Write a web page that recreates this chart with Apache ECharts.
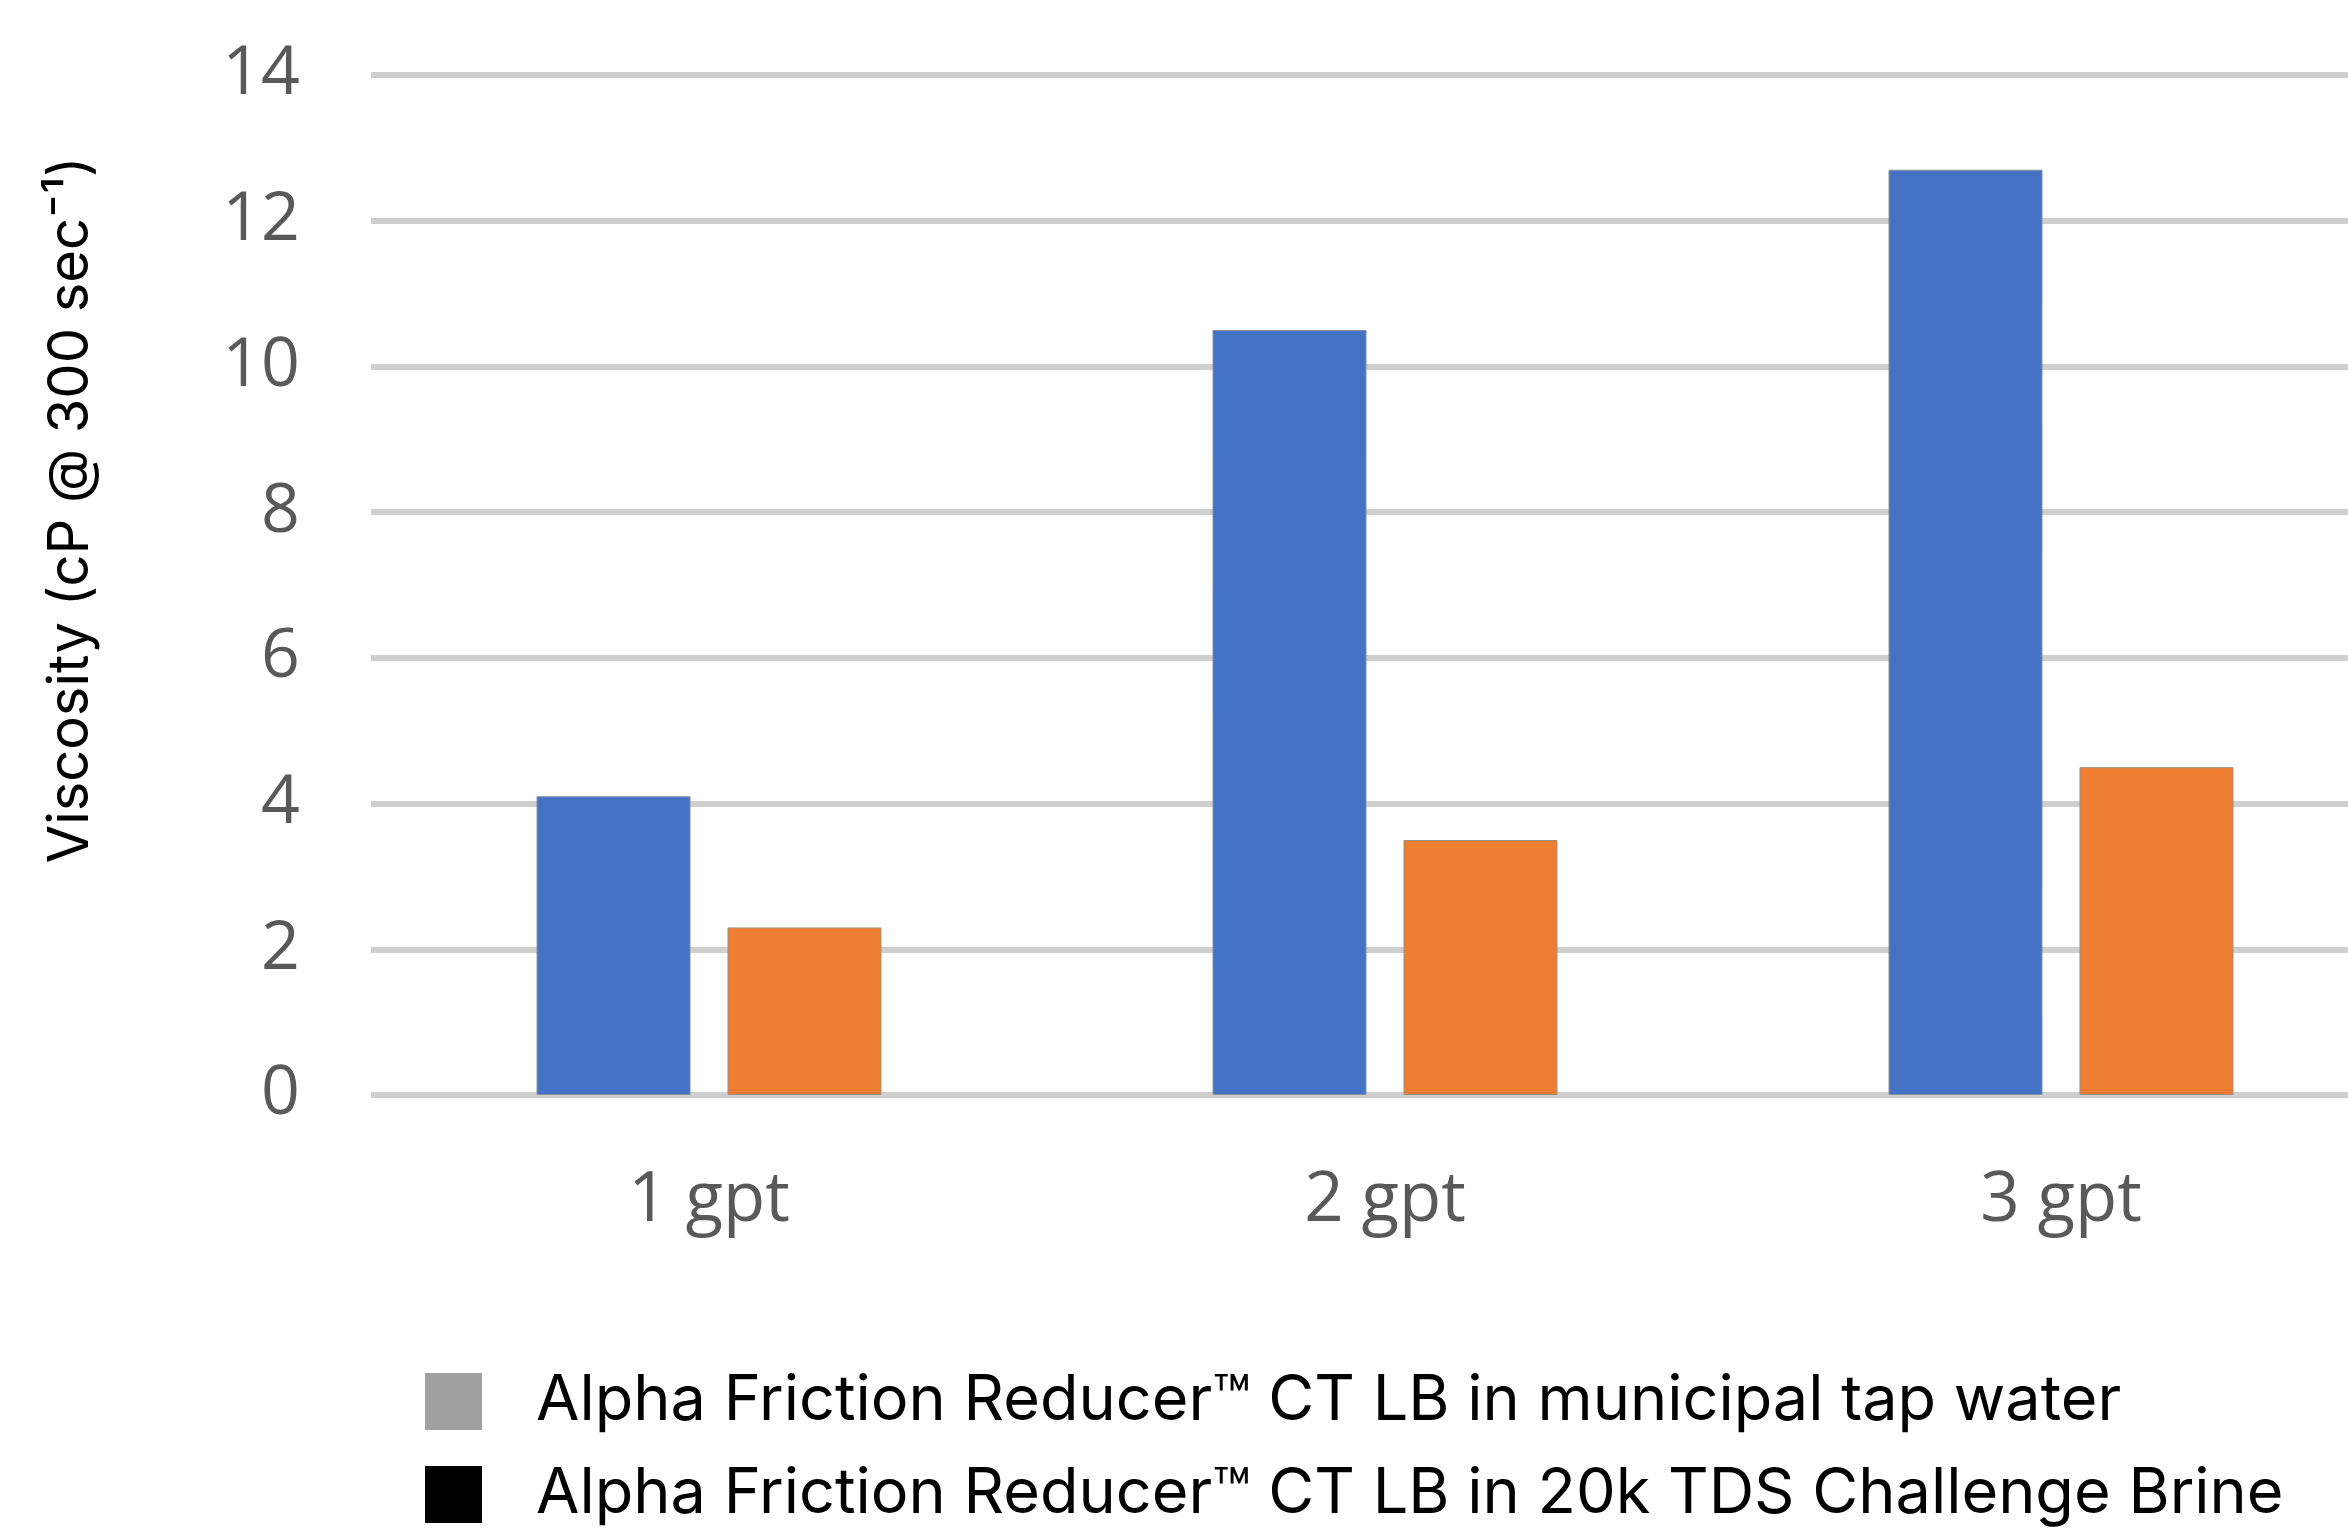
<!DOCTYPE html>
<html>
<head>
<meta charset="utf-8">
<script src="https://cdn.jsdelivr.net/npm/echarts@6/dist/echarts.min.js"></script>
<style>
html,body{margin:0;padding:0;background:#fff;}
#c{width:2348px;height:1528px;}
</style>
</head>
<body>
<div id="c"></div>
<script>
const categories = ['1 gpt', '2 gpt', '3 gpt'];
const seriesNames = [
  'Alpha Friction Reducer™ CT LB in municipal tap water',
  'Alpha Friction Reducer™ CT LB in 20k TDS Challenge Brine'
];
const tapWater = [4.1, 10.5, 12.7];
const brine = [2.3, 3.5, 4.5];
const yTicks = { min: 0, max: 14, interval: 2 };
const yTitle = 'Viscosity (cP @ 300 sec⁻¹)';

const legendText = { fontFamily: 'Inter', fontSize: 63, color: '#000', padding: [0, 0, 0, 49] };
const legendBase = {
  orient: 'vertical', left: 425, padding: 0,
  itemWidth: 57, itemHeight: 57, icon: 'rect',
  textStyle: legendText
};

const chart = echarts.init(document.getElementById('c'));
chart.setOption({
  animation: false,
  backgroundColor: '#ffffff',
  grid: { left: 371, width: 2028, top: 75, bottom: 433, containLabel: false, outerBoundsMode: 'none' },
  legend: [
    Object.assign({}, legendBase, { top: 1370,
      data: [{ name: seriesNames[0], itemStyle: { color: '#a0a0a0', borderWidth: 0 } }] }),
    Object.assign({}, legendBase, { top: 1463,
      data: [{ name: seriesNames[1], itemStyle: { color: '#000000', borderWidth: 0 } }] })
  ],
  xAxis: {
    type: 'category',
    data: categories,
    axisLine: { show: false },
    axisTick: { show: false },
    axisLabel: { fontFamily: 'Open Sans', fontSize: 69, color: '#595959', margin: 72 }
  },
  yAxis: {
    type: 'value',
    min: yTicks.min, max: yTicks.max, interval: yTicks.interval,
    name: yTitle,
    nameLocation: 'middle',
    nameRotate: 90,
    nameGap: 272,
    nameTextStyle: { fontFamily: 'Inter', fontSize: 56, color: '#000', padding: [0, 0, 0, 150] },
    axisLine: { show: false },
    axisTick: { show: false },
    axisLabel: { fontFamily: 'Open Sans', fontSize: 68, color: '#595959', margin: 71 },
    splitLine: { lineStyle: { color: '#cfcfcf', width: 6 } }
  },
  series: [
    {
      name: seriesNames[0], type: 'bar', data: tapWater,
      barWidth: 154, barGap: '24%',
      itemStyle: { color: '#4472c4', borderColor: '#8a8f99', borderWidth: 1 }
    },
    {
      name: seriesNames[1], type: 'bar', data: brine,
      barWidth: 154, barGap: '24%',
      itemStyle: { color: '#ed7d31', borderColor: '#a09080', borderWidth: 1 }
    }
  ]
});
</script>
</body>
</html>
